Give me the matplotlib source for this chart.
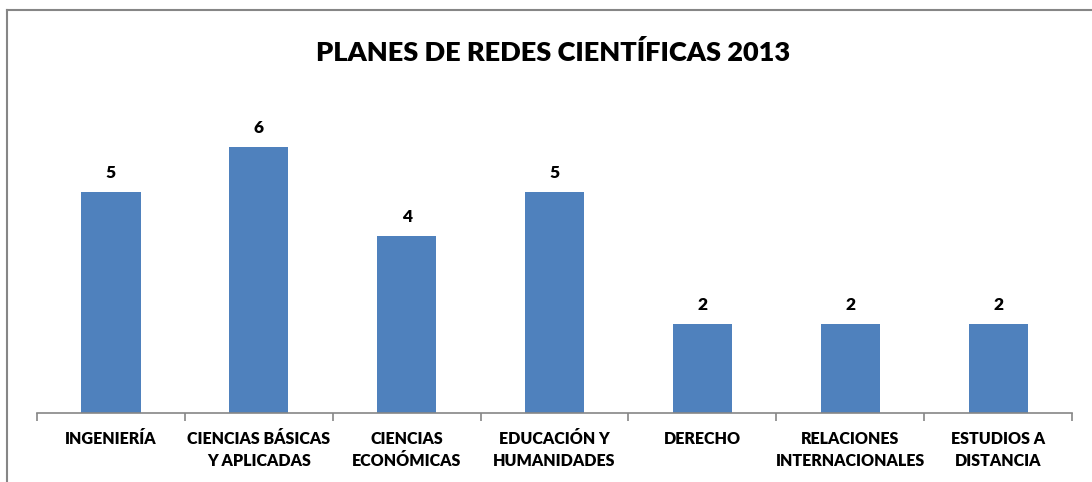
import numpy as np
import matplotlib.pyplot as plt
from matplotlib.lines import Line2D

categories = ['INGENIERÍA', 'CIENCIAS BÁSICAS\nY APLICADAS', 'CIENCIAS\nECONÓMICAS',
              'EDUCACIÓN Y\nHUMANIDADES', 'DERECHO', 'RELACIONES\nINTERNACIONALES',
              'ESTUDIOS A\nDISTANCIA']
values = [5, 6, 4, 5, 2, 2, 2]

plt.rcParams['font.family'] = ['Lato', 'DejaVu Sans']

fig = plt.figure(figsize=(10.92, 4.82), dpi=100)
ax = fig.add_axes([37 / 1092, 1 - 413 / 482, (1072 - 37) / 1092, (413 - 103) / 482])

x = np.arange(len(categories))
ax.bar(x, values, width=0.4, color='#4F81BD')
for xi, v in zip(x, values):
    ax.text(xi, v + 0.25, str(v), ha='center', va='bottom', fontsize=12.5, fontweight='heavy')

ax.set_xlim(-0.5, len(categories) - 0.5)
ax.set_ylim(0, 7)
ax.set_yticks([])
for s in ['top', 'right', 'left']:
    ax.spines[s].set_visible(False)
ax.spines['bottom'].set_color('#868686')
ax.spines['bottom'].set_linewidth(1.2)

ax.set_xticks(x)
ax.set_xticklabels(categories, fontsize=11.5, fontweight='heavy', linespacing=1.45)
ax.tick_params(axis='x', length=0, pad=13)
# tick marks between categories
ax.set_xticks(np.arange(len(categories) + 1) - 0.5, minor=True)
ax.tick_params(axis='x', which='minor', length=6, color='#868686', width=1.2)

fig.text(553 / 1092, 1 - 52 / 482, 'PLANES DE REDES CIENTÍFICAS 2013', ha='center', va='center',
         fontsize=19.5, fontweight='heavy')

# chart frame (top and left edges visible)
fig.add_artist(Line2D([7 / 1092, 7 / 1092], [0, 1 - 10 / 482], color='#868686', lw=1.5))
fig.add_artist(Line2D([7 / 1092, 1], [1 - 10 / 482, 1 - 10 / 482], color='#868686', lw=1.5))

fig.savefig('out.png', dpi=100)
